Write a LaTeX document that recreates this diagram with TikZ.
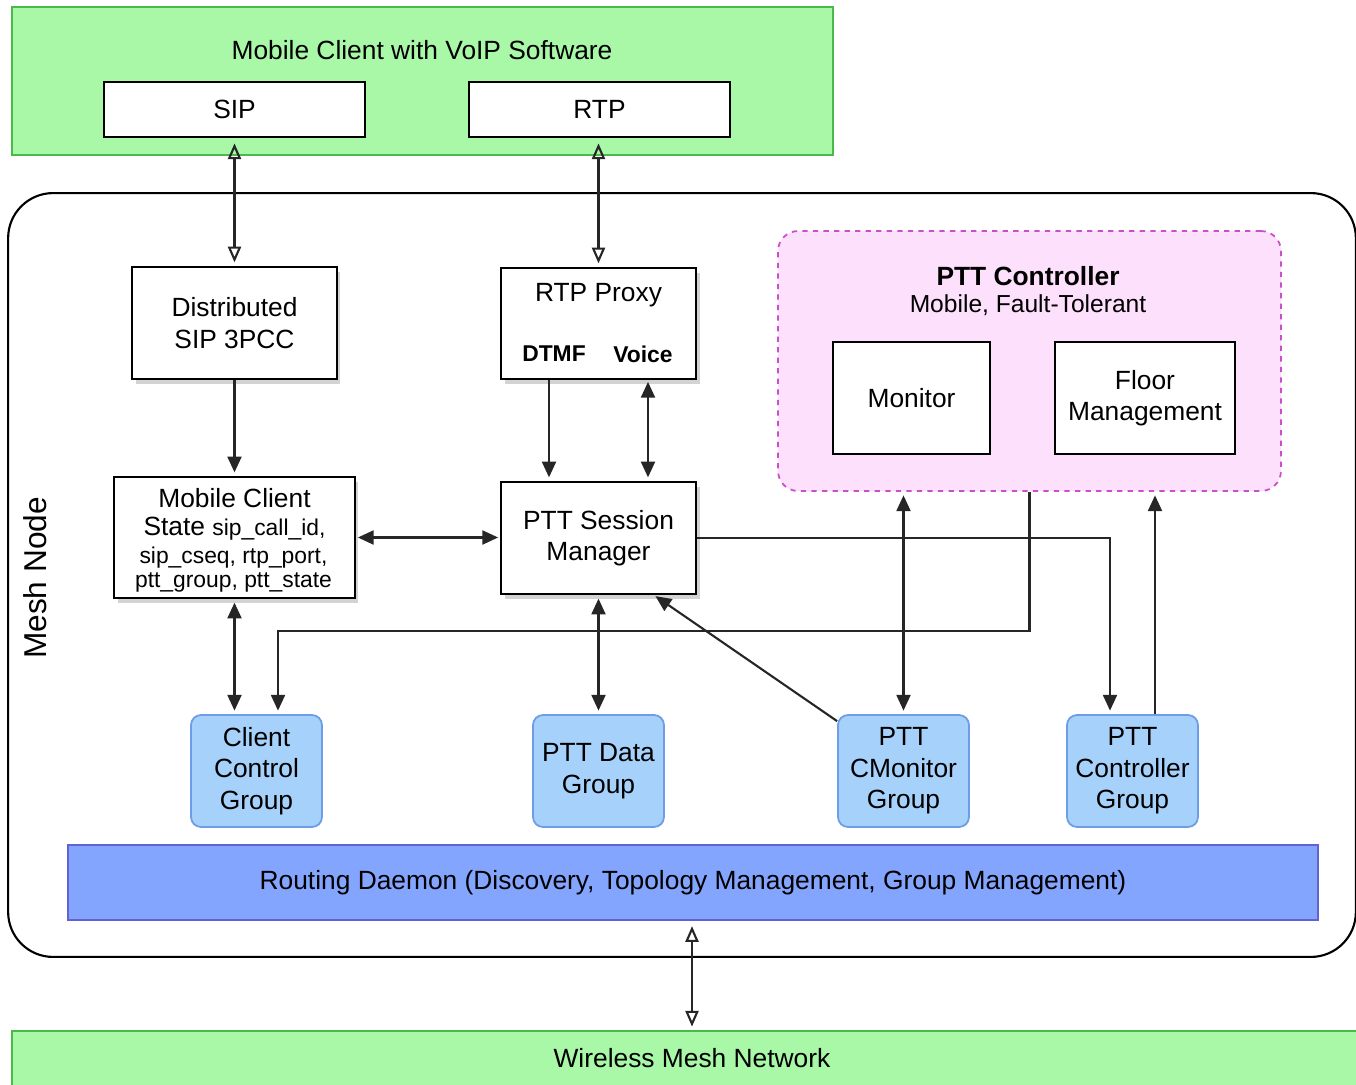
\documentclass[tikz,border=0pt]{standalone}
\usepackage{fontspec}
\setmainfont{Liberation Sans}
\usetikzlibrary{arrows.meta,shadows,calc}

\definecolor{clientgreen}{HTML}{A8F8A8}
\definecolor{clientedge}{HTML}{4CB84C}
\definecolor{ctrlpink}{HTML}{FDE0FB}
\definecolor{ctrledge}{HTML}{C850C8}
\definecolor{groupblue}{HTML}{A6D1FA}
\definecolor{groupedge}{HTML}{6C9DE6}
\definecolor{routeblue}{HTML}{84A5FD}
\definecolor{routeedge}{HTML}{6262D2}

\tikzset{
  main/.style={font=\fontsize{15}{18}\selectfont},
  small/.style={font=\fontsize{13}{15}\selectfont},
  smallbold/.style={font=\fontsize{13}{15}\selectfont\bfseries},
  plainbox/.style={draw=black, line width=1.3pt, fill=white, align=center, main},
  shadowbox/.style={plainbox, drop shadow={opacity=0.35, shadow xshift=2pt, shadow yshift=-3pt}},
  groupbox/.style={draw=groupedge, line width=1pt, fill=groupblue, rounded corners=0.2cm,
    minimum width=2.62cm, minimum height=2.24cm, align=center, main},
  greenbar/.style={draw=clientedge, line width=1pt, fill=clientgreen},
  link/.style={line width=1.2pt, draw=black!85},
  arr/.style={link, -{Triangle[length=9pt,width=8pt]}},
  biarr/.style={link, {Triangle[length=9pt,width=8pt]}-{Triangle[length=9pt,width=8pt]}},
  openarr/.style={link, {Triangle[open,length=9pt,width=7.5pt]}-{Triangle[open,length=9pt,width=7.5pt]}},
}

\begin{document}
\begin{tikzpicture}[x=0.02cm, y=-0.02cm]
\useasboundingbox (0,0) rectangle (1356,1085);

% mobile client with its two protocol stacks
\node[greenbar, minimum width=16.42cm, minimum height=2.96cm] (client) at (422.5,81) {};
\node[main] (clienttitle) at (422,50) {Mobile Client with VoIP Software};
\node[plainbox, minimum width=5.22cm, minimum height=1.1cm] (sip) at (234.5,109.5) {SIP};
\node[plainbox, minimum width=5.22cm, minimum height=1.1cm] (rtp) at (599.5,109.5) {RTP};

% mesh node frame
\node[draw=black, line width=1.2pt, rounded corners=0.9cm, minimum width=26.96cm, minimum height=15.28cm] (mesh) at (682,575) {};
\node[rotate=90, font=\fontsize{18}{21}\selectfont] (meshlabel) at (35,578) {Mesh Node};

% signalling and media components
\node[shadowbox, minimum width=4.1cm, minimum height=2.24cm] (dist) at (234.5,323) {Distributed\\SIP 3PCC};
\node[shadowbox, minimum width=3.9cm, minimum height=2.22cm] (rtpp) at (598.5,323.5) {};
\node[main] (rtpptitle) at (598.5,295) {RTP Proxy};
\node[smallbold] (dtmf) at (554,354) {DTMF};
\node[smallbold] (voice) at (643,354) {Voice};

\node[shadowbox, minimum width=4.82cm, minimum height=2.42cm] (mcs) at (234.5,537.5) {};
\node[main] (mcs1) at (234.5,498) {Mobile Client};
\node (mcs2) at (234.5,529) {\fontsize{15}{18}\selectfont State \fontsize{13}{15}\selectfont sip\_call\_id,};
\node[small] (mcs3) at (233.5,558) {sip\_cseq, rtp\_port,};
\node[small] (mcs4) at (233.5,582) {ptt\_group, ptt\_state};

\node[shadowbox, minimum width=3.9cm, minimum height=2.24cm] (sess) at (598.5,538) {PTT Session\\Manager};

% PTT controller
\node[draw=ctrledge, dashed, line width=1pt, fill=ctrlpink, rounded corners=0.4cm,
      minimum width=10.06cm, minimum height=5.2cm] (ctrl) at (1029.5,361) {};
\node[font=\fontsize{15}{18}\selectfont\bfseries] (ctrltitle) at (1028,276) {PTT Controller};
\node[font=\fontsize{14}{17}\selectfont] (ctrlsub) at (1028,305) {Mobile, Fault-Tolerant};
\node[plainbox, minimum width=3.14cm, minimum height=2.24cm] (mon) at (911.5,398) {Monitor};
\node[plainbox, minimum width=3.6cm, minimum height=2.24cm] (floor) at (1145,398) {Floor\\Management};

% groups
\node[groupbox] (ccg) at (256.5,771) {Client\\Control\\Group};
\node[groupbox] (pdg) at (598.5,771) {PTT Data\\Group};
\node[groupbox] (pcm) at (903.5,771) {PTT\\CMonitor\\Group};
\node[groupbox] (pcg) at (1132.5,771) {PTT\\Controller\\Group};

% routing daemon and network
\node[draw=routeedge, line width=1pt, fill=routeblue, minimum width=25cm, minimum height=1.5cm, main] (rd) at (693,882.5)
  {Routing Daemon (Discovery, Topology Management, Group Management)};
\node[greenbar, minimum width=27.16cm, minimum height=1.36cm] (wmn) at (691,1065) {};
\node[main] (wmntitle) at (692,1058) {Wireless Mesh Network};

% helper coordinates for connector positions
\coordinate (dtmfx) at (549,0);
\coordinate (voicex) at (648,0);
\coordinate (bendA) at (278,631);
\coordinate (bendB) at (1110,538);
\coordinate (cmx) at (654,0);
\coordinate (pcgx) at (1155,0);
\coordinate (wx) at (692,0);

% connectors
\draw[openarr, shorten <=3pt, shorten >=2pt] (sip.south) -- (dist.north);
\draw[openarr, shorten <=3pt, shorten >=2pt] (rtp.south -| rtpp.north) -- (rtpp.north);
\draw[arr, shorten >=2pt] (dist.south) -- (mcs.north);
\draw[arr, shorten >=2pt] (rtpp.south -| dtmfx) -- (sess.north -| dtmfx);
\draw[biarr, shorten <=1pt, shorten >=2pt] (rtpp.south -| voicex) -- (sess.north -| voicex);
\draw[biarr, shorten <=1pt, shorten >=1pt] (mcs.east) -- (mcs.east -| sess.west);
\draw[biarr, shorten <=2pt, shorten >=2pt] (mcs.south) -- (ccg.north -| mcs.south);
\draw[arr, shorten >=2pt] (ctrl.south) |- (bendA) -- (ccg.north -| bendA);
\draw[arr, shorten >=2pt] (sess.east |- bendB) -- (bendB) -- (pcg.north -| bendB);
\draw[biarr, shorten <=2pt, shorten >=2pt] (sess.south) -- (pdg.north);
\draw[arr, shorten >=1pt] ($(pcm.north west)+(0,7)$) -- (sess.south -| cmx);
\draw[biarr, shorten <=2pt, shorten >=2pt] (ctrl.south -| pcm.north) -- (pcm.north);
\draw[arr, shorten >=2pt] (pcg.north -| pcgx) -- (ctrl.south -| pcgx);
\draw[openarr, shorten <=3pt, shorten >=2pt] (rd.south -| wx) -- (wmn.north -| wx);
\end{tikzpicture}
\end{document}
